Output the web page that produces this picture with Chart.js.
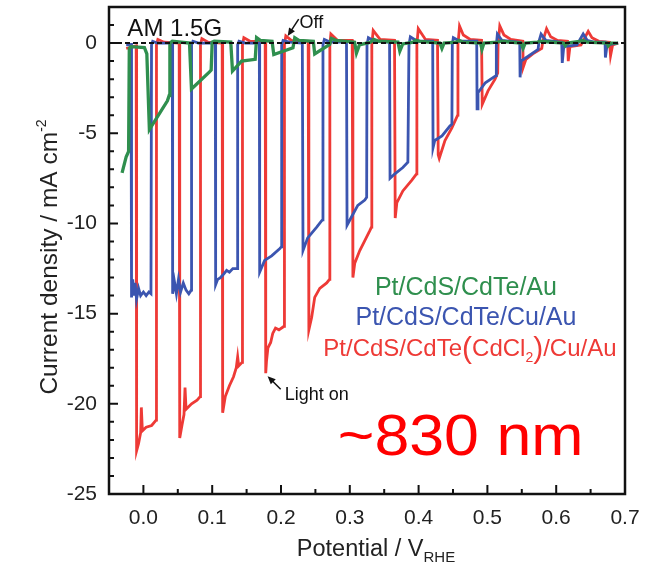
<!DOCTYPE html>
<html lang="en">
<head>
<meta charset="UTF-8">
<title>Chopped light J-V, ~830 nm</title>
<script src="https://cdn.jsdelivr.net/npm/chart.js"></script>
<style>
  html, body { margin: 0; padding: 0; background: #fff; }
  .wrap { position: relative; width: 649px; height: 571px; }
</style>
</head>
<body>
<div class="wrap"><canvas id="grafico"></canvas></div>
<script>
// [potential / V_RHE, current density / mA cm-2]
const greenCurve = [
  [-0.031,-7.2],[-0.025,-6.3],[-0.0215,-6.0],[-0.0205,-0.3],[-0.018,-0.2],[0.0015,-0.25],[0.005,-0.6],
  [0.0087,-4.8],[0.0349,-3.2],[0.0375,-2.9],[0.0385,0.0],[0.042,0.1],[0.067,0.0],
  [0.0699,-2.55],[0.0961,-1.6],[0.0985,-1.5],[0.1,0.05],[0.103,0.1],[0.127,0.05],
  [0.1295,-1.55],[0.1427,-1.0],[0.1625,-0.9],[0.1645,0.3],[0.17,0.15],[0.187,0.1],
  [0.1895,-0.63],[0.2174,-0.26],[0.22,0.3],[0.226,0.15],[0.247,0.1],
  [0.249,-0.6],[0.2708,-0.07],[0.2733,0.25],[0.28,0.15],[0.307,0.05],
  [0.3097,-0.55],[0.314,-0.1],[0.33,0.05],[0.335,0.2],[0.342,0.1],[0.37,0.05],
  [0.3727,-0.45],[0.377,-0.05],[0.392,0.05],[0.396,0.15],[0.402,0.1],[0.431,0.0],
  [0.4339,-0.3],[0.437,0.0],[0.455,0.05],[0.459,0.15],[0.465,0.05],[0.49,0.0],
  [0.4921,-0.35],[0.495,0.0],[0.515,0.05],[0.52,0.1],[0.549,0.0],
  [0.5518,-0.3],[0.555,0.0],[0.573,0.05],[0.577,0.1],[0.611,0.0],
  [0.613,-0.15],[0.616,0.0],[0.634,0.1],[0.638,0.15],[0.645,0.05],[0.674,0.0],
  [0.6756,-0.15],[0.679,0.0],[0.69,0.0]
];

const blueCurve = [
  [-0.025,-0.1],[-0.018,-0.1],
  [-0.0175,0.0],[-0.017,-14.1],[-0.0155,-13.1],[-0.014,-14.0],[-0.012,-13.3],[-0.01,-14.2],[-0.007,-13.6],
  [-0.004,-14.0],[0.0,-13.8],[0.004,-14.0],[0.008,-13.8],[0.011,-13.9],[0.0118,-0.1],[0.0135,0.1],[0.02,0.0],[0.042,0.0],
  [0.0425,-13.9],[0.045,-13.2],[0.048,-13.9],[0.051,-13.1],[0.054,-13.8],[0.058,-13.3],[0.062,-13.7],
  [0.066,-13.9],[0.0695,-13.7],[0.07,-0.1],[0.072,0.1],[0.08,0.0],[0.1045,0.0],
  [0.105,-13.4],[0.108,-13.1],[0.112,-13.0],[0.117,-12.8],[0.121,-12.6],[0.125,-12.7],[0.13,-12.5],
  [0.1365,-12.5],[0.137,-0.1],[0.139,0.1],[0.148,0.0],[0.1685,0.0],
  [0.169,-12.7],[0.1762,-12.05],[0.1864,-11.8],[0.198,-11.4],[0.2005,-11.3],[0.201,-0.1],[0.203,0.15],[0.212,0.05],[0.231,0.0],
  [0.232,-11.5],[0.2388,-10.8],[0.2519,-10.2],[0.2592,-9.85],[0.2605,-9.8],[0.261,-0.1],[0.263,0.2],[0.272,0.05],[0.2952,0.05],
  [0.296,-10.1],[0.303,-9.6],[0.3116,-9.0],[0.3218,-8.7],[0.3245,-8.55],[0.325,-0.1],[0.327,0.3],[0.336,0.1],[0.3578,0.05],
  [0.3585,-7.5],[0.3655,-7.25],[0.3771,-6.9],[0.3844,-6.6],[0.386,-0.1],[0.388,0.35],[0.398,0.1],[0.4205,0.1],
  [0.421,-5.8],[0.4235,-5.4],[0.434,-5.15],[0.4455,-4.6],[0.4484,-4.5],[0.449,-0.1],[0.4505,0.3],[0.46,0.1],[0.4845,0.1],
  [0.485,-3.65],[0.4863,-2.75],[0.497,-2.2],[0.5125,-1.8],[0.513,-0.1],[0.5145,0.5],[0.521,0.15],[0.547,0.05],
  [0.5475,-1.9],[0.549,-1.0],[0.5737,-0.35],[0.575,0.1],[0.578,0.5],[0.585,0.15],[0.608,0.05],
  [0.6088,-1.1],[0.611,-0.2],[0.63,-0.1],[0.6392,0.5],[0.645,0.15],[0.655,0.05],[0.671,0.05],
  [0.6715,-0.8],[0.674,-0.1],[0.69,0.0]
];

const redCurve = [
  [-0.025,-0.3],[-0.0105,-0.15],
  [-0.0102,-0.1],[-0.0095,-22.6],[-0.007,-22.2],[-0.004,-21.6],[-0.003,-20.2],[-0.0015,-21.5],[0.004,-21.3],
  [0.012,-21.2],[0.0185,-20.9],[0.019,-0.1],[0.021,0.2],[0.03,0.05],[0.052,0.0],
  [0.0528,-21.9],[0.056,-21.2],[0.059,-20.6],[0.0605,-19.1],[0.062,-20.3],[0.07,-20.0],[0.078,-19.8],
  [0.0825,-19.6],[0.083,-0.1],[0.085,0.25],[0.094,0.05],[0.1145,0.0],
  [0.1152,-20.5],[0.119,-19.6],[0.125,-19.0],[0.131,-18.5],[0.135,-18.0],[0.137,-17.4],[0.1385,-17.9],
  [0.1435,-17.7],[0.144,-0.1],[0.146,0.3],[0.155,0.1],[0.177,0.05],
  [0.1778,-18.3],[0.179,-17.6],[0.181,-16.9],[0.185,-16.6],[0.188,-16.1],[0.192,-15.8],[0.197,-15.9],
  [0.2045,-15.7],[0.205,-0.1],[0.207,0.4],[0.215,0.15],[0.2395,0.1],
  [0.2405,-15.9],[0.2446,-15.2],[0.249,-14.1],[0.2563,-13.6],[0.2664,-13.3],[0.2705,-13.1],[0.271,-0.1],
  [0.2725,0.5],[0.282,0.15],[0.3035,0.15],
  [0.3045,-13.0],[0.3072,-12.2],[0.3145,-11.5],[0.3218,-10.95],[0.3291,-10.4],[0.3315,-10.2],[0.332,-0.1],
  [0.334,0.7],[0.344,0.2],[0.365,0.15],
  [0.366,-9.7],[0.3684,-8.85],[0.3771,-8.2],[0.3902,-7.6],[0.397,-7.25],[0.3975,-0.1],[0.3995,0.8],[0.41,0.2],[0.4275,0.15],
  [0.4285,-6.2],[0.43,-6.4],[0.4383,-5.4],[0.4484,-4.7],[0.4568,-4.0],[0.4572,-0.1],[0.4595,0.95],[0.465,0.45],[0.475,0.2],[0.4915,0.15],
  [0.4925,-3.4],[0.5009,-2.65],[0.5111,-2.0],[0.515,-1.65],[0.5155,-0.1],[0.518,0.95],[0.524,0.45],[0.534,0.2],[0.5515,0.1],
  [0.552,-1.35],[0.556,-0.9],[0.566,-0.6],[0.579,-0.3],[0.5805,0.1],[0.586,0.8],[0.592,0.35],[0.602,0.15],[0.6165,0.1],
  [0.6175,-1.0],[0.62,-0.2],[0.636,-0.1],[0.6465,0.65],[0.652,0.3],[0.662,0.1],[0.6775,0.05],
  [0.679,-0.7],[0.682,-0.1],[0.69,0.0]
];

const zeroLine = [[-0.05, 0], [0.7, 0]];

const xTickValues = [0, 0.1, 0.2, 0.3, 0.4, 0.5, 0.6, 0.7];
const yTickValues = [0, -5, -10, -15, -20, -25];
const seriesNames = ['Pt/CdS/CdTe/Au', 'Pt/CdS/CdTe/Cu/Au', 'Pt/CdS/CdTe(CdCl2)/Cu/Au'];
const seriesColors = ['#2f8f4e', '#3b55b0', '#ee3a36'];

const FONT = '"Liberation Sans", Arial, Helvetica, sans-serif';

// draws a list of text pieces in a row, [text, size, dy]
function drawParts(ctx, parts, x, y, align, color) {
  ctx.fillStyle = color;
  ctx.textBaseline = 'alphabetic';
  ctx.textAlign = 'left';
  let total = 0;
  parts.forEach(p => { ctx.font = p[1] + 'px ' + FONT; total += ctx.measureText(p[0]).width; });
  let cx = align === 'center' ? x - total / 2 : x;
  parts.forEach(p => {
    ctx.font = p[1] + 'px ' + FONT;
    ctx.fillText(p[0], cx, y + (p[2] || 0));
    cx += ctx.measureText(p[0]).width;
  });
}

function arrow(ctx, x1, y1, x2, y2) {
  const ang = Math.atan2(y2 - y1, x2 - x1);
  ctx.strokeStyle = '#111';
  ctx.fillStyle = '#111';
  ctx.lineWidth = 1.5;
  ctx.beginPath(); ctx.moveTo(x1, y1); ctx.lineTo(x2 - 4 * Math.cos(ang), y2 - 4 * Math.sin(ang)); ctx.stroke();
  ctx.beginPath();
  ctx.moveTo(x2, y2);
  ctx.lineTo(x2 - 8 * Math.cos(ang) + 3.5 * Math.sin(ang), y2 - 8 * Math.sin(ang) - 3.5 * Math.cos(ang));
  ctx.lineTo(x2 - 8 * Math.cos(ang) - 3.5 * Math.sin(ang), y2 - 8 * Math.sin(ang) + 3.5 * Math.cos(ang));
  ctx.closePath(); ctx.fill();
}

const decor = {
  id: 'decor',
  afterDraw(chart) {
    const { ctx, chartArea: a, scales } = chart;
    const xs = scales.x, ys = scales.y;
    const X = v => xs.getPixelForValue(v), Y = v => ys.getPixelForValue(v);
    ctx.save();

    // inward ticks
    ctx.strokeStyle = '#111';
    ctx.lineWidth = 2;
    ctx.beginPath();
    for (let i = -25; i <= 2; i++) {
      const len = i % 5 === 0 ? 9 : 5;
      ctx.moveTo(a.left, Y(i)); ctx.lineTo(a.left + len, Y(i));
    }
    for (let k = 0; k <= 14; k++) {
      const v = k * 0.05;
      const len = k % 2 === 0 ? 9 : 5;
      ctx.moveTo(X(v), a.bottom); ctx.lineTo(X(v), a.bottom - len);
    }
    ctx.stroke();

    // frame
    ctx.lineWidth = 2.5;
    ctx.strokeRect(a.left, a.top, a.right - a.left, a.bottom - a.top);

    // axis titles
    drawParts(ctx, [['Potential / V', 23.5], ['RHE', 15, 6]], (a.left + a.right) / 2 + 9, 556, 'center', '#222');
    ctx.save();
    ctx.translate(57, 257);
    ctx.rotate(-Math.PI / 2);
    drawParts(ctx, [['Current density / mA cm', 24.5], ['-2', 14, -11]], 0, 0, 'center', '#222');
    ctx.restore();

    // annotations
    drawParts(ctx, [['AM 1.5G', 24]], X(-0.0233), Y(0.39), 'left', '#111');
    drawParts(ctx, [['Off', 18]], X(0.227), Y(0.83), 'left', '#111');
    arrow(ctx, X(0.2257), Y(1.33), X(0.2097), Y(0.39));
    drawParts(ctx, [['Light on', 18]], X(0.2053), Y(-19.8), 'left', '#111');
    arrow(ctx, X(0.1995), Y(-19.19), X(0.1805), Y(-18.47));

    // series labels
    const cx = X(0.4688);
    drawParts(ctx, [[seriesNames[0], 25]], cx, Y(-13.94), 'center', seriesColors[0]);
    drawParts(ctx, [[seriesNames[1], 25]], cx, Y(-15.65), 'center', seriesColors[1]);
    drawParts(ctx, [['Pt/CdS/CdTe', 24], ['(', 30, 2], ['CdCl', 24], ['2', 14, 6], [')', 30, 2], ['/Cu/Au', 24]],
      cx + 4, Y(-17.37), 'center', seriesColors[2]);

    // wavelength label, slightly stretched like the original
    ctx.save();
    ctx.translate(X(0.2825), Y(-22.84));
    ctx.scale(1.1, 1);
    drawParts(ctx, [['~830 nm', 57]], 0, 0, 'left', '#ff0000');
    ctx.restore();
    ctx.restore();
  }
};

function lineSet(label, data, color, width, order) {
  return { label, data, borderColor: color, borderWidth: width, pointRadius: 0, tension: 0, fill: false, order };
}

function noPad(s) { s.paddingTop = 0; s.paddingBottom = 0; s.paddingLeft = 0; s.paddingRight = 0; }

new Chart(document.getElementById('grafico'), {
  type: 'line',
  data: {
    datasets: [
      { label: 'zero', data: zeroLine, borderColor: '#111', borderWidth: 2, borderDash: [5, 3], pointRadius: 0, order: 0 },
      lineSet(seriesNames[0], greenCurve, seriesColors[0], 3.3, 1),
      lineSet(seriesNames[1], blueCurve, seriesColors[1], 2.8, 2),
      lineSet(seriesNames[2], redCurve, seriesColors[2], 2.8, 3)
    ]
  },
  options: {
    responsive: true,
    maintainAspectRatio: false,
    animation: false,
    layout: { padding: { top: 7, right: 24, left: 0, bottom: 0 } },
    plugins: { legend: { display: false }, tooltip: { enabled: false } },
    scales: {
      x: {
        type: 'linear', min: -0.05, max: 0.7,
        afterBuildTicks: s => { s.ticks = xTickValues.map(v => ({ value: v })); },
        afterFit: s => { s.height = 77; noPad(s); },
        grid: { display: false, drawTicks: false },
        border: { display: false },
        ticks: { autoSkip: false, maxRotation: 0, padding: 12, color: '#222',
          font: { family: FONT, size: 21 }, callback: v => Number(v).toFixed(1) }
      },
      y: {
        type: 'linear', min: -25, max: 2,
        afterBuildTicks: s => { s.ticks = yTickValues.map(v => ({ value: v })); },
        afterFit: s => { s.width = 109; noPad(s); },
        grid: { display: false, drawTicks: false },
        border: { display: false },
        ticks: { autoSkip: false, padding: 12, color: '#222',
          font: { family: FONT, size: 21 }, callback: v => String(v) }
      }
    }
  },
  plugins: [decor]
});
</script>
</body>
</html>
